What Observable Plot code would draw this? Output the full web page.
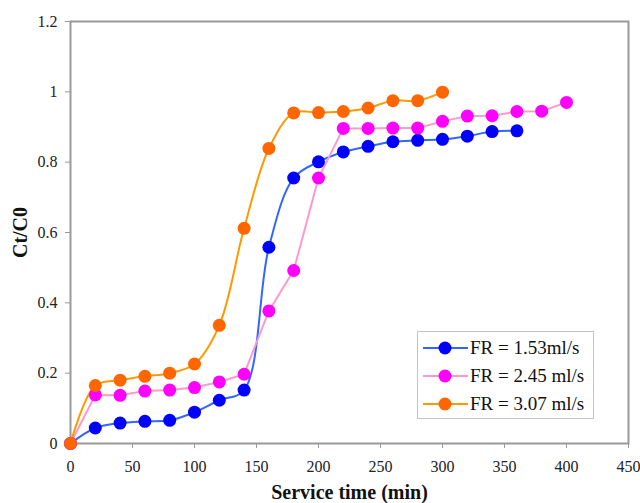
<!DOCTYPE html>
<html>
<head>
<meta charset="utf-8">
<script src="https://cdn.jsdelivr.net/npm/d3@7"></script>
<script src="https://cdn.jsdelivr.net/npm/@observablehq/plot@0.6"></script>
<style>
  body { margin: 0; background: #fff; }
  #wrap { position: relative; width: 640px; height: 503px; }
  #legend { position: absolute; left: 417px; top: 331px; width: 175px; height: 86px;
    border: 1px solid #c4c4c4; background: #fff; font-family: "Liberation Serif", serif; font-size: 19px; color: #111; }
  .row { position: absolute; left: 0; height: 22px; width: 175px; }
  .row svg { position: absolute; left: 5px; top: 0; }
  .row span { position: absolute; left: 52px; top: 0; white-space: nowrap; line-height: 22px; }
</style>
</head>
<body>
<div id="wrap"></div>
<script>
const series = ["FR = 1.53ml/s", "FR = 2.45 ml/s", "FR = 3.07 ml/s"];
const lineColors = ["#3366ff", "#ff99cc", "#ff9900"];
const dotColors = ["#0000ff", "#ff00ff", "#ff6600"];
const curves = ["catmull-rom", "linear", "catmull-rom"];

const timeFR153 = [0,20,40,60,80,100,120,140,160,180,200,220,240,260,280,300,320,340,360];
const ctFR153   = [0,0.044,0.058,0.063,0.066,0.089,0.123,0.152,0.558,0.755,0.801,0.829,0.845,0.858,0.862,0.865,0.874,0.887,0.889];

const timeFR245 = [0,20,40,60,80,100,120,140,160,180,200,220,240,260,280,300,320,340,360,380,400];
const ctFR245   = [0,0.138,0.137,0.149,0.152,0.159,0.175,0.197,0.377,0.492,0.755,0.896,0.896,0.897,0.897,0.916,0.931,0.932,0.944,0.945,0.970];

const timeFR307 = [0,20,40,60,80,100,120,140,160,180,200,220,240,260,280,300];
const ctFR307   = [0,0.165,0.180,0.191,0.200,0.226,0.336,0.612,0.839,0.940,0.941,0.944,0.954,0.975,0.975,0.999];

const xTicks = [0,50,100,150,200,250,300,350,400,450];
const yTicks = [0,0.2,0.4,0.6,0.8,1,1.2];

const sets = [[timeFR153, ctFR153], [timeFR245, ctFR245], [timeFR307, ctFR307]];

const marks = [];
sets.forEach(([t, v], i) => {
  const rows = t.map((x, j) => ({x, y: v[j]}));
  marks.push(Plot.line(rows, {x: "x", y: "y", stroke: lineColors[i], strokeWidth: 2, curve: curves[i]}));
});
sets.forEach(([t, v], i) => {
  const rows = t.map((x, j) => ({x, y: v[j]}));
  marks.push(Plot.dot(rows, {x: "x", y: "y", r: 6.5, fill: dotColors[i], stroke: "none"}));
});

const chart = Plot.plot({
  width: 640,
  height: 503,
  marginLeft: 70,
  marginRight: 12,
  marginTop: 21,
  marginBottom: 60,
  style: {fontFamily: "Liberation Serif, serif", fontSize: "16px", color: "#222", background: "#fff", overflow: "visible"},
  x: {domain: [0, 450]},
  y: {domain: [0, 1.2]},
  marks: [
    Plot.frame({stroke: "#999", strokeWidth: 2}),
    Plot.axisX({ticks: xTicks, tickSize: 5, tickPadding: 12, label: null, stroke: "#999", tickFormat: d => String(d)}),
    Plot.axisY({ticks: yTicks, tickSize: 5, tickPadding: 8, label: null, stroke: "#999", tickFormat: d => String(+d.toFixed(1))}),
    Plot.text(["Ct/C0"], {frameAnchor: "left", dx: -50, rotate: -90, textAnchor: "middle", lineAnchor: "middle", fontWeight: "bold", fontSize: 20, fill: "#111"}),
    Plot.text(["Service time (min)"], {frameAnchor: "bottom", dy: 49, textAnchor: "middle", lineAnchor: "middle", fontWeight: "bold", fontSize: 20, fill: "#111"}),
    ...marks
  ]
});
document.getElementById("wrap").appendChild(chart);

const legend = document.createElement("div");
legend.id = "legend";
series.forEach((name, i) => {
  const row = document.createElement("div");
  row.className = "row";
  row.style.top = (5 + i * 28) + "px";
  row.innerHTML = `<svg width="45" height="22"><line x1="0" x2="45" y1="11" y2="11" stroke="${lineColors[i]}" stroke-width="2"/><circle cx="22" cy="11" r="6.5" fill="${dotColors[i]}"/></svg><span>${name}</span>`;
  legend.appendChild(row);
});
document.getElementById("wrap").appendChild(legend);
</script>
</body>
</html>
